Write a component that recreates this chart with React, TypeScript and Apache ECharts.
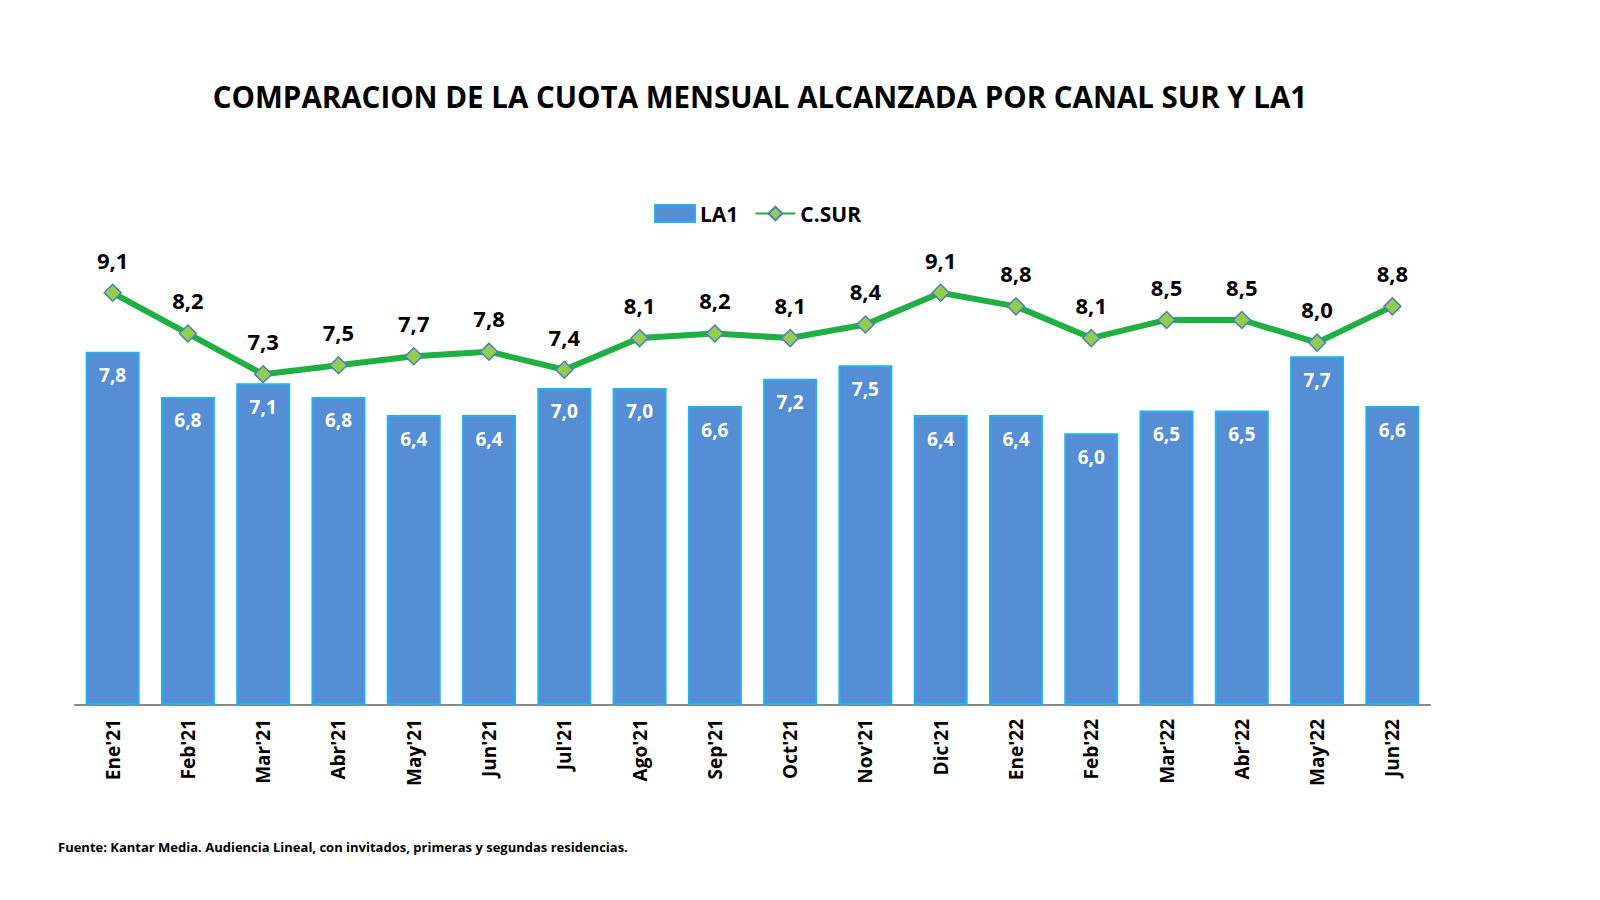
import React, { useEffect, useRef } from "react";
import * as echarts from "echarts";

const categories = ["Ene'21", "Feb'21", "Mar'21", "Abr'21", "May'21", "Jun'21", "Jul'21", "Ago'21", "Sep'21", "Oct'21", "Nov'21", "Dic'21", "Ene'22", "Feb'22", "Mar'22", "Abr'22", "May'22", "Jun'22"];
const la1 = [7.8, 6.8, 7.1, 6.8, 6.4, 6.4, 7.0, 7.0, 6.6, 7.2, 7.5, 6.4, 6.4, 6.0, 6.5, 6.5, 7.7, 6.6];
const csur = [9.1, 8.2, 7.3, 7.5, 7.7, 7.8, 7.4, 8.1, 8.2, 8.1, 8.4, 9.1, 8.8, 8.1, 8.5, 8.5, 8.0, 8.8];

const FONT = "Open Sans";
const fmt = (p: any) => Number(p.value).toFixed(1).replace(".", ",");

export default function App() {
  const ref = useRef<HTMLDivElement>(null);
  useEffect(() => {
    const chart = echarts.init(ref.current!, null, { renderer: "svg" });
    chart.setOption({
      animation: false,
      backgroundColor: "#ffffff",
      title: {
        text: "COMPARACION DE LA CUOTA MENSUAL ALCANZADA POR CANAL SUR Y LA1",
        left: 755,
        textAlign: "center",
        top: 76,
        textStyle: { fontFamily: FONT, fontWeight: "bold", fontSize: 29.5, color: "#000" },
      },
      legend: {
        top: 198,
        left: 649,
        itemGap: 16,
        itemWidth: 40,
        itemHeight: 17,
        textStyle: { fontFamily: FONT, fontWeight: "bold", fontSize: 21, color: "#000" },
        data: [
          { name: "LA1", icon: "rect" },
          { name: "C.SUR" },
        ],
      },
      grid: { left: 75, right: 170, top: 252, bottom: 195 },
      xAxis: {
        type: "category",
        data: categories,
        axisLine: { lineStyle: { color: "#898989", width: 2 } },
        axisTick: { show: false },
        axisLabel: {
          rotate: 90,
          margin: 14,
          interval: 0,
          fontFamily: FONT,
          fontWeight: "bold",
          fontSize: 19,
          color: "#000",
        },
      },
      yAxis: {
        type: "value",
        min: 0,
        max: 10,
        show: false,
      },
      graphic: [
        {
          type: "text",
          left: 58,
          top: 840,
          style: {
            text: "Fuente: Kantar Media. Audiencia Lineal, con invitados, primeras y segundas residencias.",
            fontFamily: FONT,
            fontWeight: "bold",
            fontSize: 13,
            fill: "#000",
          },
        },
      ],
      series: [
        {
          name: "LA1",
          type: "bar",
          data: la1,
          barWidth: 54,
          itemStyle: { color: "#558ED5", borderColor: "#1FB2EE", borderWidth: 2 },
          label: {
            show: true,
            position: "insideTop",
            distance: 14,
            formatter: fmt,
            fontFamily: FONT,
            fontWeight: "bold",
            fontSize: 19,
            color: "#fff",
          },
        },
        {
          name: "C.SUR",
          type: "line",
          data: csur,
          symbol: "diamond",
          symbolSize: 17,
          lineStyle: { color: "#20AF42", width: 6 },
          itemStyle: { color: "#92CD4E", borderColor: "#4F7FBD", borderWidth: 1.5 },
          label: {
            show: true,
            position: "top",
            distance: 13,
            formatter: fmt,
            fontFamily: FONT,
            fontWeight: "bold",
            fontSize: 22,
            color: "#000",
          },
        },
      ],
    });
    return () => chart.dispose();
  }, []);
  return (
    <div
      ref={ref}
      style={{ position: "absolute", left: 0, top: 0, width: 1600, height: 900 }}
    />
  );
}
